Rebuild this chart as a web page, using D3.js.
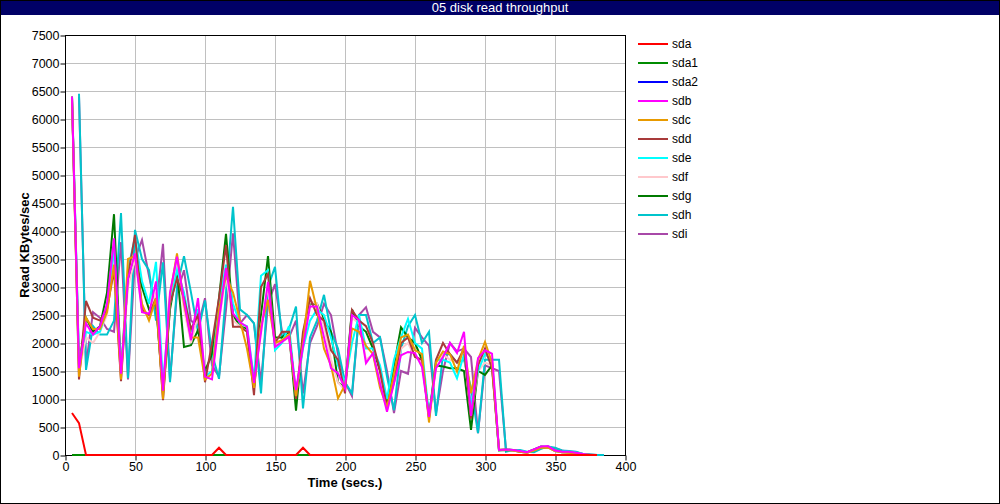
<!DOCTYPE html>
<html><head><meta charset="utf-8">
<script src="https://cdn.jsdelivr.net/npm/d3@7"></script>
<style>
html,body{margin:0;padding:0;background:#fff;}
svg{display:block;}
text{font-family:'Liberation Sans Narrow','Arial Narrow','Liberation Sans',Arial,sans-serif;}
</style></head><body>
<svg id="chart" width="1000" height="504"></svg>
<script>
const times = [5,10,15,20,25,30,35,40,45,50,55,60,65,70,75,80,85,90,95,100,105,110,115,120,125,130,135,140,145,150,155,160,165,170,175,180,185,190,195,200,205,210,215,220,225,230,235,240,245,250,255,260,265,270,275,280,285,290,295,300,305,310,315,320,325,330,335,340,345,350,355,360,365,370,375,380,385];

const sda  = [750,570,0,0,0,0,0,0,0,0,0,0,0,0,0,0,0,0,0,0,0,130,0,0,0,0,0,0,0,0,0,0,0,130,0,0,0,0,0,0,0,0,0,0,0,0,0,0,0,0,0,0,0,0,0,0,0,0,0,0,0,0,0,0,0,0,0,0,0,0,0,0,0,0,0,0,null];
const sda1 = [0,0,0,0,0,0,0,0,0,0,0,0,0,0,0,0,0,0,0,0,0,0,0,0,0,0,0,0,0,0,0,0,0,0,0,0,0,0,0,0,0,0,0,0,0,0,0,0,0,0,0,0,0,0,0,0,0,0,0,0,0,0,0,0,0,0,0,0,0,0,0,0,0,0,0,0,null];
const sda2 = [0,0,0,0,0,0,0,0,0,0,0,0,0,0,0,0,0,0,0,0,0,0,0,0,0,0,0,0,0,0,0,0,0,0,0,0,0,0,0,0,0,0,0,0,0,0,0,0,0,0,0,0,0,0,0,0,0,0,0,0,0,0,0,0,0,0,0,0,0,0,0,0,0,0,0,0,null];
const sdb  = [6400,1550,2350,2150,2300,2700,3870,1450,3150,3600,
              2550,2520,3100,1150,2900,3540,2750,2050,2800,1400,
              1350,2400,3340,2530,2370,2290,1290,2180,3090,1930,
              2020,2110,1160,1930,2650,2650,2100,1550,1460,1190,
              2500,2410,1640,1820,1280,770,1280,1780,1840,1820,
              1570,680,1550,1750,2000,1820,2200,700,1730,1870,
              1810,90,100,90,70,50,100,150,160,80,
              60,60,40,20,0,0,null];
const sdc  = [6380,1400,2450,2250,2250,2550,3400,1350,3500,3550,
              2700,2400,2800,1000,2850,3600,2700,2100,2100,1350,
              1450,2600,3200,2900,2400,1900,1200,2300,2770,2000,
              2050,2150,1050,2000,3110,2600,1900,1600,1010,1250,
              2260,2200,1950,1800,1200,850,1450,2100,2150,1870,
              1800,580,1650,1850,1800,1490,1950,1100,1700,2020,
              1650,100,90,80,60,40,80,130,130,70,
              50,40,30,10,0,0,null];
const sdd  = [6400,1350,2750,2450,2400,2600,3300,1320,3200,3930,
              2600,2500,2800,980,2700,3150,2800,2250,2500,1300,
              2000,2800,3750,2290,2290,2200,1070,3000,3230,2000,
              2200,2200,1000,2200,2800,2500,2400,1870,1700,1100,
              2590,2400,2300,2000,1500,850,1300,2000,2100,1750,
              1700,650,1700,2000,1800,1650,1900,650,1600,1900,
              1550,90,100,90,60,50,100,150,140,80,
              60,50,30,10,0,0,null];
const sde  = [6400,1700,2200,2150,2200,2600,3700,1500,3300,3900,
              3100,2700,3450,1300,2700,3300,2900,2200,2600,1400,
              1500,2700,3400,2700,2350,2300,1350,3200,3300,1870,
              2000,2300,1100,1900,2400,2600,2500,2100,1600,1300,
              2000,2500,1900,1900,1600,1000,1700,2100,2430,2000,
              1900,700,1700,1700,1650,1370,1800,900,1500,1800,
              1700,90,100,90,70,50,100,150,150,80,
              60,60,40,20,0,0,null];
const sdf  = [6300,1500,2100,2000,2200,2500,3500,1400,3000,3500,
              2600,2450,2900,1050,2800,3450,2600,2000,2500,1350,
              1450,2400,3200,2400,2300,2200,1250,2300,3000,1950,
              2050,2150,1050,2000,2750,2700,2300,1700,1300,1150,
              2450,2350,1700,1800,1350,800,1350,1900,2000,1750,
              1650,650,1550,1800,1700,1650,1850,700,1500,1650,
              1600,90,90,80,60,40,90,140,140,70,
              50,40,30,10,0,0,null];
const sdg  = [6390,1600,2450,2200,2300,2900,4300,1500,3100,3550,
              3000,2600,2700,1100,2600,3300,1930,1960,2230,1500,
              1800,2800,3950,2500,2300,2250,1200,2500,3550,2100,
              2100,2200,790,2100,2700,2700,2400,2200,1300,1200,
              2600,2300,2200,1900,1500,900,1600,2280,2100,2000,
              1700,700,1600,1580,1550,1550,1500,450,1500,1430,
              1600,80,90,80,60,40,90,140,140,70,
              50,40,20,10,0,0,null];
const sdh  = [null,6450,1520,2300,2150,2150,2400,4320,1370,4020,
              3500,3300,2400,3440,1300,3000,3550,2900,2200,2760,
              1810,1360,2900,4430,2600,2500,2350,1100,3000,3360,
              2100,2250,2650,830,2100,2400,2860,2200,1900,1300,
              1100,2500,2500,2000,2100,1400,800,1900,2300,2500,
              2000,2200,700,1800,1800,1650,1700,1200,390,1700,
              1700,1700,60,90,90,60,50,110,150,130,
              80,70,60,20,10,0,0];
const sdi  = [null,6400,1600,2550,2450,2250,2200,3800,1350,3500,
              3840,3200,2600,3770,1350,2900,3300,2400,2300,2800,
              1600,1400,2600,3960,2350,2500,2350,1300,2700,3050,
              2200,2100,2400,1100,2000,2300,2700,2500,1800,1300,
              1050,2500,2640,2200,2100,1500,750,1500,1450,2270,
              2100,1950,750,1500,2000,1850,1900,1750,390,1600,
              1550,1500,90,80,70,50,60,120,140,120,
              80,60,50,20,10,0,null];

const seriesNames = ["sda","sda1","sda2","sdb","sdc","sdd","sde","sdf","sdg","sdh","sdi"];
const seriesValues = [sda,sda1,sda2,sdb,sdc,sdd,sde,sdf,sdg,sdh,sdi];
const seriesColors = ["#ff0000","#008c00","#0000ff","#ff00ff","#e89a00","#a83a3a","#00ffff","#ffc8cc","#007a00","#00c4cc","#a848a8"];

const xTicks = [0,50,100,150,200,250,300,350,400];
const yTicks = [0,500,1000,1500,2000,2500,3000,3500,4000,4500,5000,5500,6000,6500,7000,7500];

const title = "05 disk read throughput";
const xLabel = "Time (secs.)";
const yLabel = "Read KBytes/sec";

const W = 1000, H = 504;
const L = 65, R = 625, T = 35, B = 455;

const svg = d3.select("#chart");
const x = d3.scaleLinear().domain([0,400]).range([L,R]);
const y = d3.scaleLinear().domain([0,7500]).range([B,T]);

// title bar
svg.append("rect").attr("x",0).attr("y",0).attr("width",W).attr("height",15).attr("fill","#000066");
svg.append("text").attr("x",W/2).attr("y",12).attr("text-anchor","middle")
  .attr("fill","#fff").attr("font-size","13px").text(title);

// grid
svg.append("g").selectAll("line").data(yTicks.slice(1,-1)).join("line")
  .attr("x1",L).attr("x2",R).attr("y1",d=>y(d)+0.5).attr("y2",d=>y(d)+0.5)
  .attr("stroke","#c0c0c0").attr("stroke-width",1);
svg.append("g").selectAll("line").data(xTicks.slice(1,-1)).join("line")
  .attr("y1",T).attr("y2",B).attr("x1",d=>x(d)+0.5).attr("x2",d=>x(d)+0.5)
  .attr("stroke","#c0c0c0").attr("stroke-width",1);

// axes
const yAxis = d3.axisLeft(y).tickValues(yTicks).tickSize(5).tickSizeOuter(0).tickFormat(d3.format("d"));
const xAxis = d3.axisBottom(x).tickValues(xTicks).tickSize(5).tickSizeOuter(0).tickFormat(d3.format("d"));
const gy = svg.append("g").attr("transform",`translate(${L+0.5},0.5)`).call(yAxis);
const gx = svg.append("g").attr("transform",`translate(0.5,${B+0.5})`).call(xAxis);
[gy,gx].forEach(g=>{
  g.select(".domain").remove();
  g.selectAll("line").attr("stroke","#000");
  g.selectAll("text").attr("fill","#000").attr("font-size","12.5px").style("font-family","'Liberation Sans Narrow','Arial Narrow','Liberation Sans',Arial,sans-serif");
});
gy.selectAll("text").attr("x",-6).attr("dy","0.35em");
gx.selectAll("text").attr("y",7);

// frame
svg.append("rect").attr("x",L+0.5).attr("y",T+0.5).attr("width",R-L).attr("height",B-T)
  .attr("fill","none").attr("stroke","#000").attr("stroke-width",1);

// lines (drawn in reverse order so sda is on top)
const line = d3.line().defined(d=>d[1]!=null).x(d=>x(d[0])).y(d=>y(d[1]));
const order = d3.range(seriesNames.length).reverse();
const gl = svg.append("g");
order.forEach(i=>{
  const pts = times.map((t,k)=>[t,seriesValues[i][k]]);
  gl.append("path").attr("d",line(pts)).attr("fill","none")
    .attr("stroke",seriesColors[i]).attr("stroke-width",2).attr("stroke-linejoin","miter");
});

// axis labels
svg.append("text").attr("x",(L+R)/2).attr("y",487).attr("text-anchor","middle")
  .attr("font-weight","bold").attr("font-size","13px").text(xLabel);
svg.append("text").attr("transform",`translate(29,${(T+B)/2}) rotate(-90)`).attr("text-anchor","middle")
  .attr("font-weight","bold").attr("font-size","13px").text(yLabel);

// legend
const lg = svg.append("g");
seriesNames.forEach((n,i)=>{
  const yy = 44 + i*19;
  lg.append("line").attr("x1",638).attr("x2",668).attr("y1",yy).attr("y2",yy)
    .attr("stroke",seriesColors[i]).attr("stroke-width",2);
  lg.append("text").attr("x",672).attr("y",yy+4).attr("font-size","12px").attr("fill","#000").text(n);
});

// outer border
svg.append("rect").attr("x",0.5).attr("y",0.5).attr("width",W-1).attr("height",H-1)
  .attr("fill","none").attr("stroke","#000").attr("stroke-width",1);
</script>
</body></html>
